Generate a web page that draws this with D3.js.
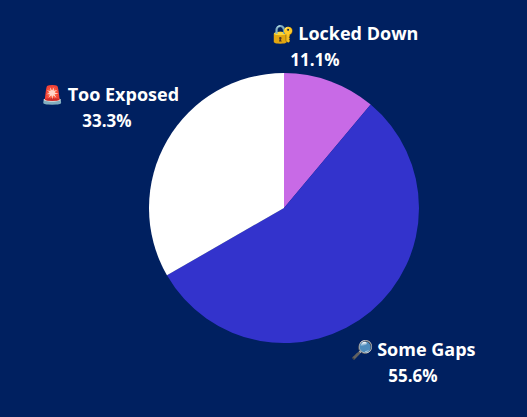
<!DOCTYPE html>
<html><head><meta charset="utf-8">
<script src="https://cdn.jsdelivr.net/npm/d3@7"></script>
<style>html,body{margin:0;padding:0;background:#002060;}</style>
</head><body>
<svg id="c" width="527" height="417"></svg>
<script>
const categories = ["Locked Down", "Some Gaps", "Too Exposed"];
const icons = ["🔐", "🔎", "🚨"];
const values = [11.1, 55.6, 33.3];
const colors = ["#c86ae6", "#3333cc", "#ffffff"];
// label anchor positions (name line centre, percent line centre)
const labelPos = [[345, 35, 315, 61], [413, 351, 413, 377], [110, 96, 107, 122]];

const svg = d3.select("#c");
svg.append("rect").attr("width", 527).attr("height", 417).attr("fill", "#002060");
const cx = 284, cy = 208, r = 135;
const pie = d3.pie().sort(null).value(d => d)(values);
const arc = d3.arc().innerRadius(0).outerRadius(r);
const g = svg.append("g").attr("transform", `translate(${cx},${cy})`);
g.selectAll("path").data(pie).join("path").attr("d", arc)
  .attr("fill", (d, i) => colors[i]);
const font = "'Open Sans','Noto Sans',sans-serif";
categories.forEach((c, i) => {
  const [x1, y1, x2, y2] = labelPos[i];
  svg.append("text").attr("x", x1).attr("y", y1).attr("text-anchor", "middle")
    .attr("dominant-baseline", "middle").attr("fill", "#fff")
    .attr("font-family", font).attr("font-weight", "bold").attr("font-size", 18)
    .text(icons[i] + " " + c);
  svg.append("text").attr("x", x2).attr("y", y2).attr("text-anchor", "middle")
    .attr("dominant-baseline", "middle").attr("fill", "#fff")
    .attr("font-family", font).attr("font-weight", "bold").attr("font-size", 17)
    .text(values[i].toFixed(1) + "%");
});
</script>
</body></html>
